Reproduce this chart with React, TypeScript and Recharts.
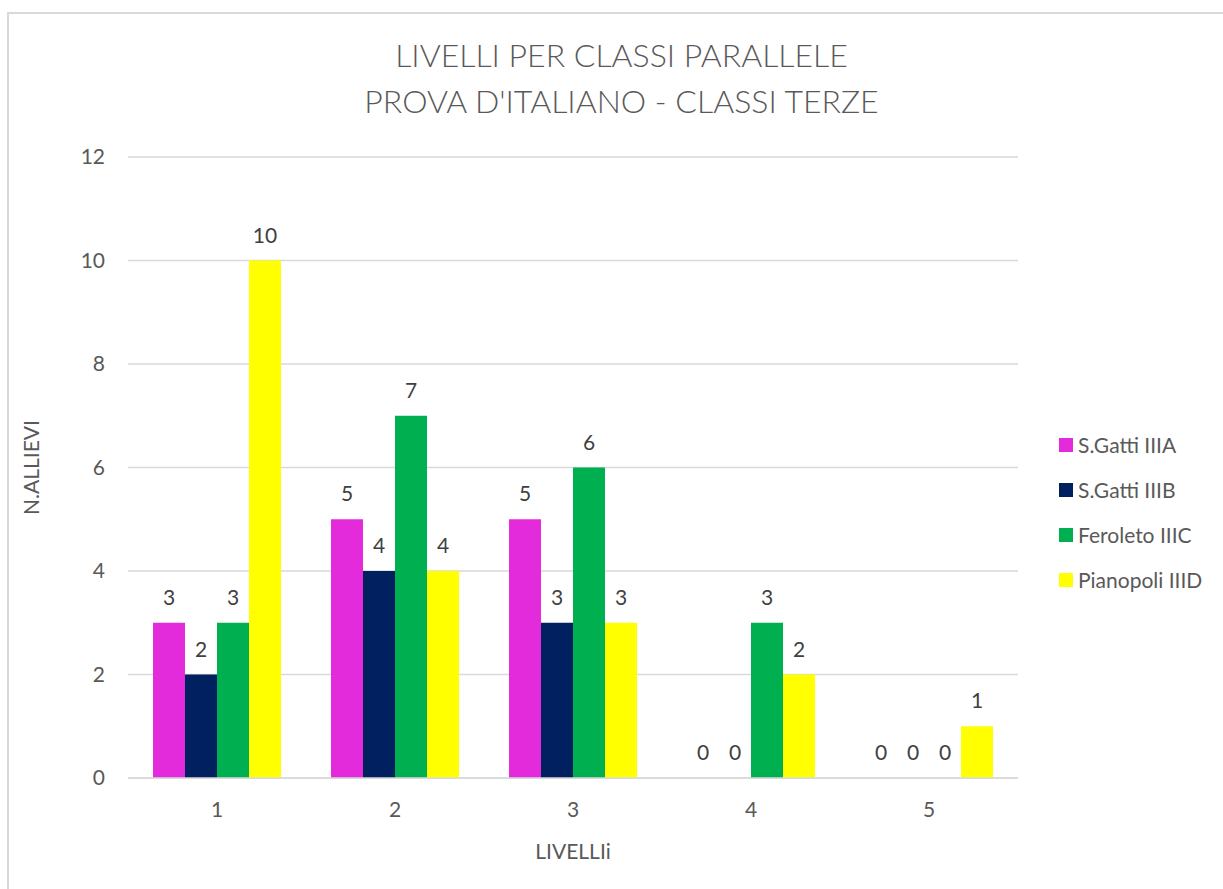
import { BarChart, Bar, XAxis, YAxis, CartesianGrid, Legend, LabelList } from "recharts";

const levels = ["1", "2", "3", "4", "5"];
const gattiA = [3, 5, 5, 0, 0];
const gattiB = [2, 4, 3, 0, 0];
const feroleto = [3, 7, 6, 3, 0];
const pianopoli = [10, 4, 3, 2, 1];
const yTicks = [0, 2, 4, 6, 8, 10, 12];

const series = [
  { key: "S.Gatti IIIA", color: "#E32BDB" },
  { key: "S.Gatti IIIB", color: "#002060" },
  { key: "Feroleto IIIC", color: "#00B050" },
  { key: "Pianopoli IIID", color: "#FFFF00" },
];

const data = levels.map((name, i) => ({
  name,
  "S.Gatti IIIA": gattiA[i],
  "S.Gatti IIIB": gattiB[i],
  "Feroleto IIIC": feroleto[i],
  "Pianopoli IIID": pianopoli[i],
}));

const font = "Lato, 'Open Sans', sans-serif";
const grey = "#595959";

const renderLegend = () => (
  <div style={{ fontFamily: font }}>
    {series.map((s) => (
      <div key={s.key} style={{ display: "flex", alignItems: "center", height: 45, fontSize: 21, color: grey }}>
        <span style={{ display: "inline-block", width: 14, height: 14, background: s.color, marginRight: 5 }} />
        {s.key}
      </div>
    ))}
  </div>
);

const App = () => {
  return (
    <div style={{ position: "absolute", left: 0, top: 0, width: 1223, height: 889, overflow: "hidden", background: "#fff" }}>
      <div style={{ position: "absolute", left: 7, top: 12, width: 1240, height: 900, border: "2px solid #d9d9d9" }} />
      <div
        style={{
          position: "absolute",
          left: 0,
          width: 1243,
          top: 32,
          textAlign: "center",
          fontFamily: font,
          fontSize: 32,
          fontWeight: 300,
          color: grey,
          lineHeight: "46px",
        }}
      >
        <div>LIVELLI PER CLASSI PARALLELE</div>
        <div>PROVA D'ITALIANO - CLASSI TERZE</div>
      </div>
      <div style={{ position: "absolute", left: 0, top: 0 }}>
        <BarChart
          width={1223}
          height={889}
          data={data}
          margin={{ top: 157, right: 35, bottom: 0, left: 0 }}
          barCategoryGap={25}
          barGap={0}
          style={{ fontFamily: font }}
        >
          <CartesianGrid vertical={false} stroke="#d9d9d9" strokeWidth={1.5} />
          <XAxis
            dataKey="name"
            height={111}
            tickLine={false}
            tickSize={0}
            tickMargin={24}
            axisLine={{ stroke: "#d9d9d9", strokeWidth: 1.5 }}
            tick={{ fill: grey, fontSize: 21 }}
            label={{ value: "LIVELLIi", position: "insideBottom", offset: 30, fill: grey, fontSize: 21 }}
          />
          <YAxis
            width={128}
            domain={[0, 12]}
            ticks={yTicks}
            tickLine={false}
            axisLine={false}
            tickSize={0}
            tickMargin={23}
            tick={{ fill: grey, fontSize: 21 }}
            label={{ value: "N.ALLIEVI", angle: -90, position: "insideLeft", offset: 32, fill: grey, fontSize: 21, style: { textAnchor: "middle" } }}
          />
          <Legend
            layout="vertical"
            align="right"
            verticalAlign="top"
            content={renderLegend}
            wrapperStyle={{ left: 1059, top: 422, width: 170 }}
          />
          {series.map((s) => (
            <Bar key={s.key} dataKey={s.key} fill={s.color} minPointSize={0.01} isAnimationActive={false}>
              <LabelList dataKey={s.key} position="top" offset={18} fill="#404040" fontSize={21} />
            </Bar>
          ))}
        </BarChart>
      </div>
    </div>
  );
};

export default App;
